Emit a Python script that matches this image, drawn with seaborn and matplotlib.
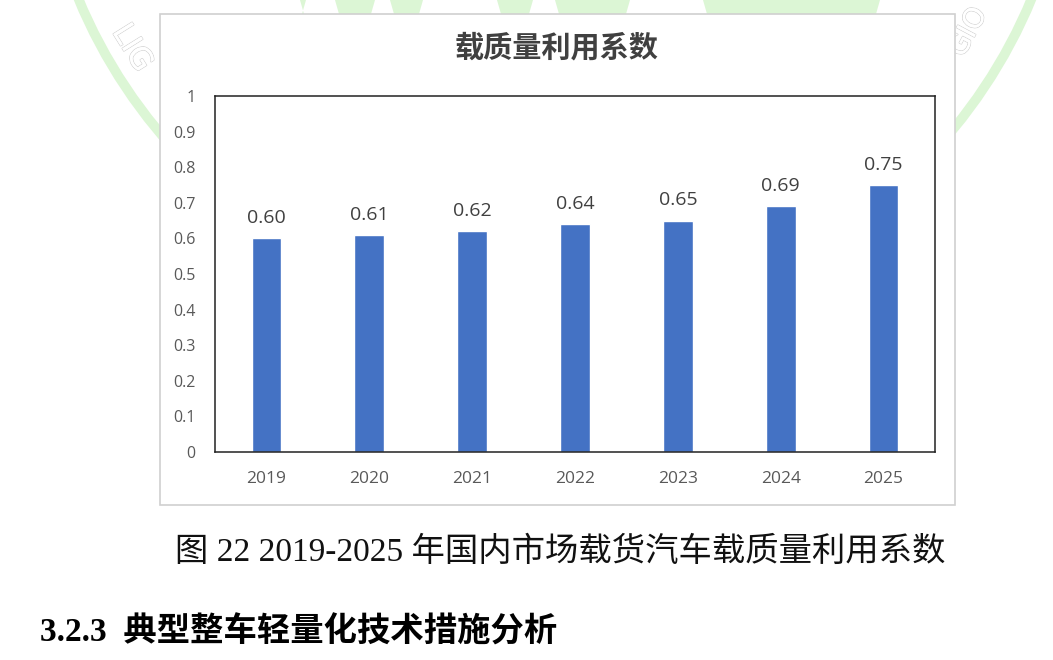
import pandas as pd
import seaborn as sns
import matplotlib.pyplot as plt
import matplotlib.patheffects as pe
from matplotlib.patches import Rectangle, Circle, Polygon

# Chart data
years = ["2019", "2020", "2021", "2022", "2023", "2024", "2025"]
coef = [0.60, 0.61, 0.62, 0.64, 0.65, 0.69, 0.75]
y_ticks = [0, 0.1, 0.2, 0.3, 0.4, 0.5, 0.6, 0.7, 0.8, 0.9, 1]
y_tick_labels = ["0", "0.1", "0.2", "0.3", "0.4", "0.5", "0.6", "0.7", "0.8", "0.9", "1"]

chart_title = "载质量利用系数"
caption = "图 22 2019-2025 年国内市场载货汽车载质量利用系数"
heading = "3.2.3  典型整车轻量化技术措施分析"

df = pd.DataFrame({"year": years, "coef": coef})

sns.set_style("white")
plt.rcParams['font.family'] = ['Open Sans', 'Noto Sans CJK SC', 'DejaVu Sans']

W, H = 1053, 660
fig = plt.figure(figsize=(W / 100, H / 100), dpi=100)
fig.patch.set_facecolor("white")

# watermark behind the page (light green ring, logo fragments, outlined letters)
wm = "#dcf6d5"
bg = fig.add_axes([0, 0, 1, 1], zorder=-5)
bg.set_xlim(0, W)
bg.set_ylim(H, 0)
bg.axis("off")
bg.add_patch(Circle((555, -199), 516, fill=False, edgecolor=wm, linewidth=7))
for xs in [(300, 306), (335, 375), (390, 423), (497, 533), (555, 630), (703, 880)]:
    bg.add_patch(Polygon([(xs[0], 0), (xs[1], 0), (xs[1] - 4, 14), (xs[0] + 4, 14)],
                         closed=True, facecolor=wm, edgecolor="none"))
t1 = bg.text(132, 48, "LIG", rotation=-58, fontsize=22, ha="center", va="center",
             family="DejaVu Sans", color="white")
t1.set_path_effects([pe.withStroke(linewidth=1, foreground="#cfcfcf"), pe.Normal()])
t2 = bg.text(968, 32, "GIO", rotation=62, fontsize=20, ha="center", va="center",
             family="DejaVu Sans", color="white")
t2.set_path_effects([pe.withStroke(linewidth=1, foreground="#cfcfcf"), pe.Normal()])

# chart card with light gray border
card = Rectangle((160 / W, 1 - 505 / H), 795 / W, 491 / H, transform=fig.transFigure,
                 facecolor="white", edgecolor="#d0d0d0", linewidth=1.2, zorder=-1)
fig.patches.append(card)

ax = fig.add_axes([215 / W, 1 - 452 / H, 720 / W, 356 / H])
sns.barplot(data=df, x="year", y="coef", color="#4472C4", saturation=1,
            width=0.29, ax=ax)
ax.set_ylim(0, 1)
ax.set_yticks(y_ticks)
ax.set_yticklabels(y_tick_labels)
ax.set_xlabel("")
ax.set_ylabel("")
for s in ax.spines.values():
    s.set_visible(True)
    s.set_color("#222222")
    s.set_linewidth(1.1)
ax.tick_params(axis="y", length=0, pad=14, labelsize=11.5, labelcolor="#595959")
ax.tick_params(axis="x", length=0, pad=14, labelsize=12.5, labelcolor="#595959")
ax.bar_label(ax.containers[0], labels=[f"{v:.2f}" for v in coef], padding=8,
             fontsize=14, color="#404040")

fig.text(557 / W, 1 - 47 / H, chart_title, ha="center", va="center",
         fontsize=21, fontweight="bold", color="#404040",
         family=["Noto Sans CJK SC", "DejaVu Sans"])

fig.text(560 / W, 1 - 552 / H, caption, ha="center", va="center",
         fontsize=24, color="#111111",
         family=["Liberation Serif", "Noto Sans CJK SC"])
fig.text(40 / W, 1 - 632 / H, heading, ha="left", va="center",
         fontsize=24, fontweight="bold", color="#000000",
         family=["Liberation Serif", "Noto Sans CJK SC"])

fig.savefig("out.png", dpi=100)
